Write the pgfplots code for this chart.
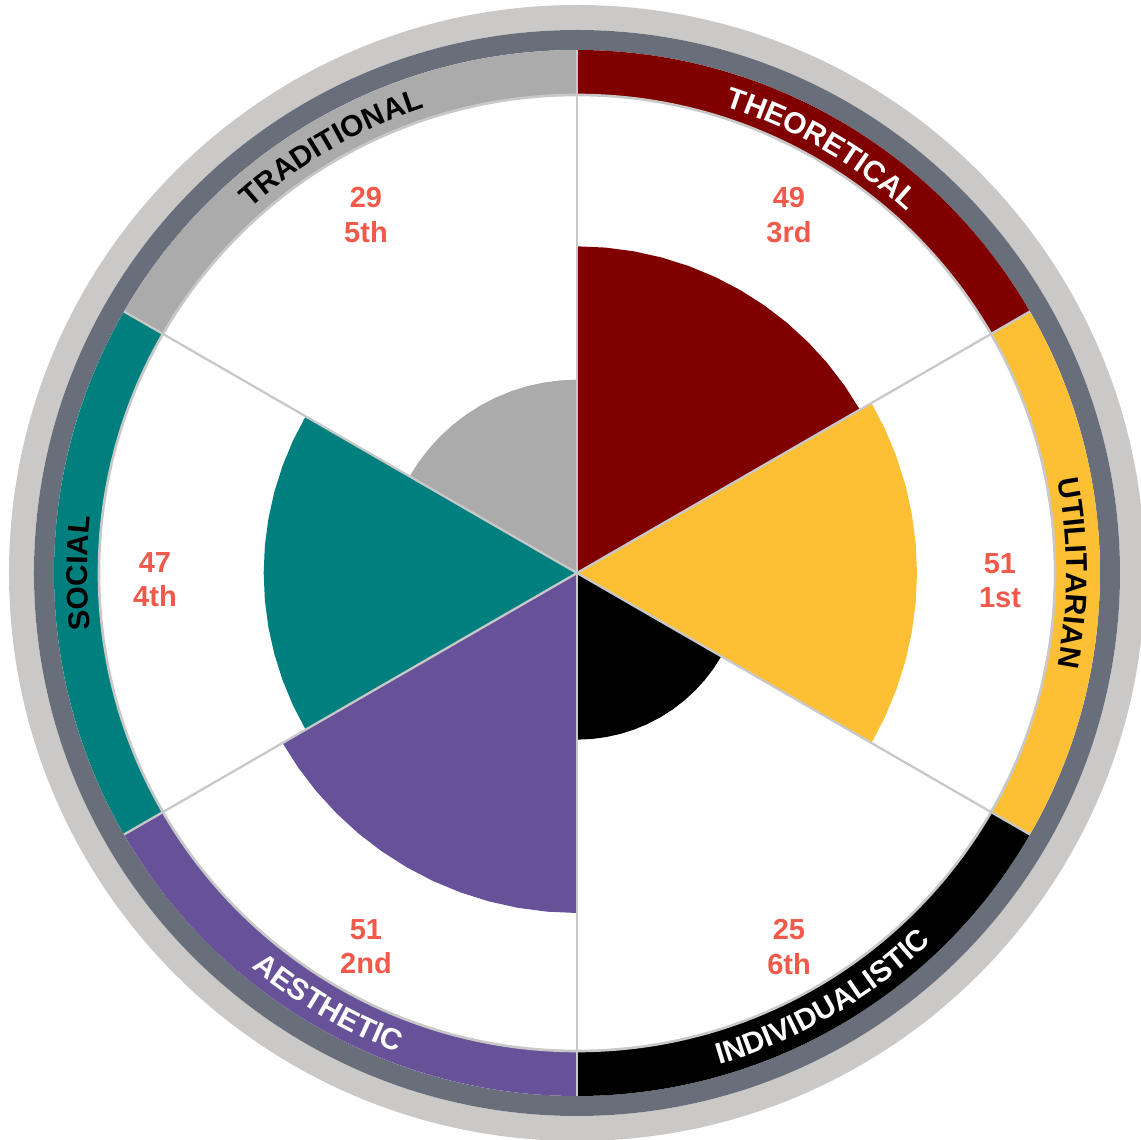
\documentclass[border=0pt]{standalone}
\usepackage{fontspec}
\setmainfont{Liberation Sans}
\usepackage{pgfplots}
\pgfplotsset{compat=1.18}
\usetikzlibrary{decorations.text}

\definecolor{theo}{HTML}{800000}
\definecolor{util}{HTML}{FDBF33}
\definecolor{indi}{HTML}{000000}
\definecolor{aest}{HTML}{675299}
\definecolor{soci}{HTML}{007F7F}
\definecolor{trad}{HTML}{ABABAB}
\definecolor{ringdark}{HTML}{686F7A}
\definecolor{ringlight}{HTML}{CBC9C7}
\definecolor{sep}{HTML}{C8C8C8}
\definecolor{coral}{HTML}{F15A4A}

\newcommand\catfont{\fontsize{17}{20}\selectfont\bfseries}

% band segment: start angle, end angle, colour
\newcommand\band[3]{%
  \fill[#3] (#1:9.56) arc[start angle=#1, end angle=#2, radius=9.56]
    -- (#2:10.46) arc[start angle=#2, end angle=#1, radius=10.46] -- cycle;}

\begin{document}
\begin{tikzpicture}
% outer rings
\fill[ringlight, even odd rule] (0,0) circle[radius=11.36] (0,0) circle[radius=10.86];
\fill[ringdark, even odd rule] (0,0) circle[radius=10.86] (0,0) circle[radius=10.46];
\band{90}{30}{theo}
\band{30}{-30}{util}
\band{-30}{-90}{indi}
\band{-90}{-150}{aest}
\band{-150}{-210}{soci}
\band{150}{90}{trad}

\begin{axis}[
    anchor=origin, at={(0,0)},
    x=0.13333cm, y=0.13333cm,
    xmin=-86.4, xmax=84.5, ymin=-85, ymax=85.9,
    hide axis, clip=false,
  ]
  % Theoretical 49
  \addplot[draw=none, fill=theo, data cs=polar] coordinates {
    (90,0) (90,49) (85,49) (80,49) (75,49) (70,49) (65,49) (60,49)
    (55,49) (50,49) (45,49) (40,49) (35,49) (30,49)} -- cycle;
  % Utilitarian 51
  \addplot[draw=none, fill=util, data cs=polar] coordinates {
    (30,0) (30,51) (25,51) (20,51) (15,51) (10,51) (5,51) (0,51)
    (-5,51) (-10,51) (-15,51) (-20,51) (-25,51) (-30,51)} -- cycle;
  % Individualistic 25
  \addplot[draw=none, fill=indi, data cs=polar] coordinates {
    (-30,0) (-30,25) (-35,25) (-40,25) (-45,25) (-50,25) (-55,25) (-60,25)
    (-65,25) (-70,25) (-75,25) (-80,25) (-85,25) (-90,25)} -- cycle;
  % Aesthetic 51
  \addplot[draw=none, fill=aest, data cs=polar] coordinates {
    (-90,0) (-90,51) (-95,51) (-100,51) (-105,51) (-110,51) (-115,51) (-120,51)
    (-125,51) (-130,51) (-135,51) (-140,51) (-145,51) (-150,51)} -- cycle;
  % Social 47
  \addplot[draw=none, fill=soci, data cs=polar] coordinates {
    (210,0) (210,47) (205,47) (200,47) (195,47) (190,47) (185,47) (180,47)
    (175,47) (170,47) (165,47) (160,47) (155,47) (150,47)} -- cycle;
  % Traditional 29
  \addplot[draw=none, fill=trad, data cs=polar] coordinates {
    (150,0) (150,29) (145,29) (140,29) (135,29) (130,29) (125,29) (120,29)
    (115,29) (110,29) (105,29) (100,29) (95,29) (90,29)} -- cycle;
\end{axis}

% separators
\draw[sep, line width=1.5pt] (0,0) circle[radius=9.56];
\foreach \a in {90,30,-30,-90,-150,150}
  \draw[sep, line width=1.3pt] (0,0) -- (\a:10.46);

% category names along the band
\path[decorate, decoration={text along path, text align=center,
    text={|\catfont\color{white}|THEORETICAL}}]
  (90:9.79) arc[start angle=90, end angle=30, radius=9.79];
\path[decorate, decoration={text along path, text align=center,
    text={|\catfont\color{black}|UTILITARIAN}}]
  (30:9.79) arc[start angle=30, end angle=-30, radius=9.79];
\path[decorate, decoration={text along path, text align=center,
    text={|\catfont\color{black}|SOCIAL}}]
  (210:9.79) arc[start angle=210, end angle=150, radius=9.79];
\path[decorate, decoration={text along path, text align=center,
    text={|\catfont\color{black}|TRADITIONAL}}]
  (150:9.79) arc[start angle=150, end angle=90, radius=9.79];
\path[decorate, decoration={text along path, text align=center,
    text={|\catfont\color{white}|AESTHETIC}}]
  (-150:10.23) arc[start angle=-150, end angle=-90, radius=10.23];
\path[decorate, decoration={text along path, text align=center,
    text={|\catfont\color{white}|INDIVIDUALISTIC}}]
  (-90:10.23) arc[start angle=-90, end angle=-30, radius=10.23];

% values and ranks
\begin{scope}[every node/.style={align=center, text=coral,
    font=\fontsize{16.5}{19.5}\selectfont\bfseries}]
  \node at (4.24,7.16) {49\\3rd};
  \node at (8.46,-0.16) {51\\1st};
  \node at (4.24,-7.48) {25\\6th};
  \node at (-4.22,-7.48) {51\\2nd};
  \node at (-8.44,-0.14) {47\\4th};
  \node at (-4.22,7.16) {29\\5th};
\end{scope}

\pgfresetboundingbox
\useasboundingbox (-11.54,-11.34) rectangle (11.28,11.46);
\end{tikzpicture}
\end{document}
